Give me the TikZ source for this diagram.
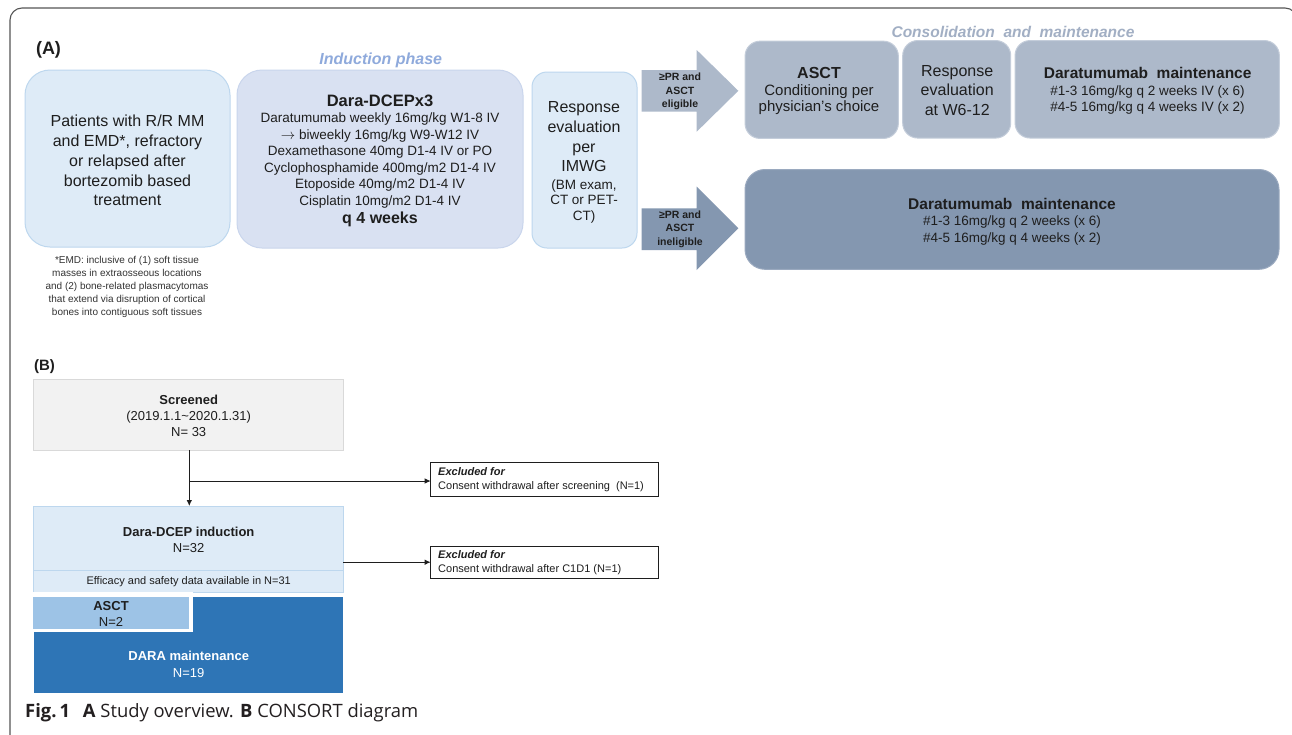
\documentclass[tikz,border=0pt]{standalone}
\usepackage{fontspec}
\setmainfont{Liberation Sans}
\newfontfamily\capfont{Open Sans}
\usetikzlibrary{arrows.meta}
\definecolor{txtc}{HTML}{1E1E1E}
\definecolor{framec}{HTML}{555555}
\definecolor{lbfill}{HTML}{DEEBF7}
\definecolor{lbdraw}{HTML}{BDD7EE}
\definecolor{indfill}{HTML}{D9E1F2}
\definecolor{inddraw}{HTML}{C9D5EC}
\definecolor{indtitle}{HTML}{8FAADC}
\definecolor{contitle}{HTML}{A2AFC4}
\definecolor{gbfill}{HTML}{ADB9CA}
\definecolor{gbdraw}{HTML}{C4CDDA}
\definecolor{dgfill}{HTML}{8497B0}
\definecolor{dgdraw}{HTML}{9AA9BF}
\definecolor{scrfill}{HTML}{F2F2F2}
\definecolor{scrdraw}{HTML}{D9D9D9}
\definecolor{asctfill}{HTML}{9DC3E6}
\definecolor{darafill}{HTML}{2E75B6}
\definecolor{capc}{HTML}{231F20}
\definecolor{notec}{HTML}{333333}
\newcommand\myfs[2]{\fontsize{#1}{#2}\selectfont}
\tikzset{
  boxbase/.style={inner sep=0pt, outer sep=0pt, line width=1pt},
  bluebox/.style={boxbase, draw=lbdraw, fill=lbfill},
  indbox/.style={boxbase, draw=inddraw, fill=indfill},
  graybox/.style={boxbase, draw=gbdraw, fill=gbfill, rounded corners=15pt},
  darkbox/.style={boxbase, draw=dgdraw, fill=dgfill, rounded corners=20pt},
  label/.style={inner sep=0pt, align=center, text=txtc},
  exclbox/.style={boxbase, draw=txtc, fill=white, line width=1.1pt},
  conn/.style={draw=txtc, line width=0.9pt, -{Latex[length=6pt,width=5.5pt]}},
}
\begin{document}
\begin{tikzpicture}[x=1pt,y=-1pt]
\useasboundingbox (0,0) rectangle (1292,734);
\clip (0,0) rectangle (1292,734);
\fill[white] (0,0) rectangle (1292,734);
\draw[framec, line width=1.1pt, rounded corners=12pt] (10,8) rectangle (1297,748);

% ---------------- (A) ----------------
\node[label, font=\myfs{18}{20}\bfseries] (labA) at (48.5,50) {(A)};

\node[bluebox, rounded corners=25pt, minimum width=205pt, minimum height=177pt] (pat) at (127.5,158.5) {};
\node[label, font=\myfs{16}{19.8}] (pattxt) at (127.5,160.5) {Patients with R/R MM\\and EMD*, refractory\\or relapsed after\\bortezomib based\\treatment};

\node[label, text=notec, font=\myfs{10}{13.2}] (note) at (127,287) {*EMD: inclusive of (1) soft tissue\\masses in extraosseous locations\\and (2) bone-related plasmacytomas\\that extend via disruption of cortical\\bones into contiguous soft tissues};

\node[label, text=indtitle, font=\myfs{16}{18}\bfseries\itshape] (indph) at (380.8,60.7) {Induction phase};

\node[indbox, rounded corners=25pt, minimum width=286pt, minimum height=178pt] (ind) at (380,159) {};
\node[label, font=\myfs{16.5}{18}\bfseries] (indt) at (380,101) {Dara-DCEPx3};
\node[label, font=\myfs{13.5}{16.5}] (indb) at (380,160.5) {Daratumumab weekly 16mg/kg W1-8 IV\\$\rightarrow$ biweekly 16mg/kg W9-W12 IV\\Dexamethasone 40mg D1-4 IV or PO\\Cyclophosphamide 400mg/m2 D1-4 IV\\Etoposide 40mg/m2 D1-4 IV\\Cisplatin 10mg/m2 D1-4 IV};
\node[label, font=\myfs{16}{18}\bfseries] (indq) at (380,219) {q 4 weeks};

\node[bluebox, rounded corners=15pt, minimum width=105pt, minimum height=176pt] (resp) at (584.5,160) {};
\node[label, font=\myfs{16}{19.7}] (resp1) at (584,137) {Response\\evaluation\\per\\IMWG};
\node[label, font=\myfs{13.5}{15.8}] (resp2) at (584,201.5) {(BM exam,\\CT or PET-\\CT)};

% block arrows
\fill[gbfill] (641.7,70) -- (696.7,70) -- (696.7,50) -- (738.3,90.8) -- (696.7,131.7) -- (696.7,111.7) -- (641.7,111.7) -- cycle;
\node[label, font=\myfs{10.5}{13.5}\bfseries] (arr1) at (680,91.5) {≥PR and\\ASCT\\eligible};
\fill[dgfill] (641.7,208.3) -- (696.7,208.3) -- (696.7,186.7) -- (738.3,228.3) -- (696.7,270) -- (696.7,250) -- (641.7,250) -- cycle;
\node[label, font=\myfs{10.5}{13.5}\bfseries] (arr2) at (680,229) {≥PR and\\ASCT\\ineligible};

\node[label, text=contitle, font=\myfs{15.5}{18}\bfseries\itshape] (conph) at (1013,31.7) {Consolidation\ \ and\ \ maintenance};

\node[graybox, minimum width=153.3pt, minimum height=97.3pt] (asct) at (821.7,89.8) {};
\node[label, font=\myfs{16}{18}\bfseries] (asctt) at (819,72.5) {ASCT};
\node[label, font=\myfs{15}{16}] (asctb) at (819,100) {Conditioning per\\physician's choice};

\node[graybox, minimum width=108pt, minimum height=97.5pt] (resp3) at (956.7,89.3) {};
\node[label, font=\myfs{16}{19.7}] (resp3t) at (957.2,90.5) {Response\\evaluation\\at W6-12};

\node[graybox, minimum width=264.3pt, minimum height=97.5pt] (maint1) at (1147.2,89.3) {};
\node[label, font=\myfs{15.5}{18}\bfseries] (maint1t) at (1147.7,73) {Daratumumab\ \ maintenance};
\node[label, font=\myfs{13.5}{16.7}] (maint1b) at (1147.5,100) {\#1-3 16mg/kg q 2 weeks IV (x 6)\\\#4-5 16mg/kg q 4 weeks IV (x 2)};

\node[darkbox, minimum width=534pt, minimum height=99.8pt] (maint2) at (1012,219.4) {};
\node[label, font=\myfs{15.5}{18}\bfseries] (maint2t) at (1012,203.5) {Daratumumab\ \ maintenance};
\node[label, font=\myfs{13.5}{16.6}] (maint2b) at (1012,230.5) {\#1-3 16mg/kg q 2 weeks (x 6)\\\#4-5 16mg/kg q 4 weeks (x 2)};

% ---------------- (B) ----------------
\node[label, font=\myfs{15}{17}\bfseries] (labB) at (44.5,366.7) {(B)};

\node[boxbase, draw=scrdraw, fill=scrfill, minimum width=310pt, minimum height=70.7pt] (scr) at (188.3,414.7) {};
\node[label, font=\myfs{13}{16}] (scrt) at (188.7,416) {{\bfseries Screened}\\(2019.1.1\textasciitilde 2020.1.31)\\N= 33};

\node[bluebox, minimum width=310pt, minimum height=64pt] (dara) at (188.3,538) {};
\node[label, font=\myfs{13}{16.3}] (darat) at (188.7,540) {{\bfseries Dara-DCEP induction}\\N=32};
\node[bluebox, minimum width=310pt, minimum height=22.3pt] (eff) at (188.3,581.2) {};
\node[label, font=\myfs{11}{13}] (efft) at (188.7,581.7) {Efficacy and safety data available in N=31};

\node[exclbox, minimum width=227.6pt, minimum height=33.7pt] (ex1) at (544.5,479.2) {};
\node[label, align=left, anchor=west, font=\myfs{11}{13.8}] (ex1t) at (438,480) {{\bfseries\itshape Excluded for}\\Consent withdrawal after screening\ \ (N=1)};
\node[exclbox, minimum width=227.6pt, minimum height=32.3pt] (ex2) at (544.5,562.2) {};
\node[label, align=left, anchor=west, font=\myfs{11}{13.8}] (ex2t) at (438,563) {{\bfseries\itshape Excluded for}\\Consent withdrawal after C1D1 (N=1)};

\coordinate (br) at (189.3,481);
\draw[conn] (scr.south -| br) -- (dara.north -| br);
\draw[conn] (br) -- (br -| ex1.west);
\draw[conn] (dara.east |- ex2.west) -- (ex2.west);

\node[boxbase, fill=darafill, minimum width=309.3pt, minimum height=96.6pt] (darm) at (188.65,645) {};
\fill[white] (28,592.3) rectangle (193.3,632.3);
\node[boxbase, fill=asctfill, minimum width=156pt, minimum height=32.3pt] (asctB) at (111.3,612.85) {};
\node[label, font=\myfs{13}{15.7}] (asctBt) at (111,614) {{\bfseries ASCT}\\N=2};
\node[label, text=white, font=\myfs{13}{16.7}] (darmt) at (188.7,664.5) {{\bfseries DARA maintenance}\\N=19};

% caption
\node[inner sep=0pt, anchor=west, text=capc, font=\capfont\myfs{18.4}{22}] (cap) at (25,713) {{\bfseries Fig.\,1}\hspace{0.7em}{\bfseries A} Study overview. {\bfseries B} CONSORT diagram};
\end{tikzpicture}
\end{document}
